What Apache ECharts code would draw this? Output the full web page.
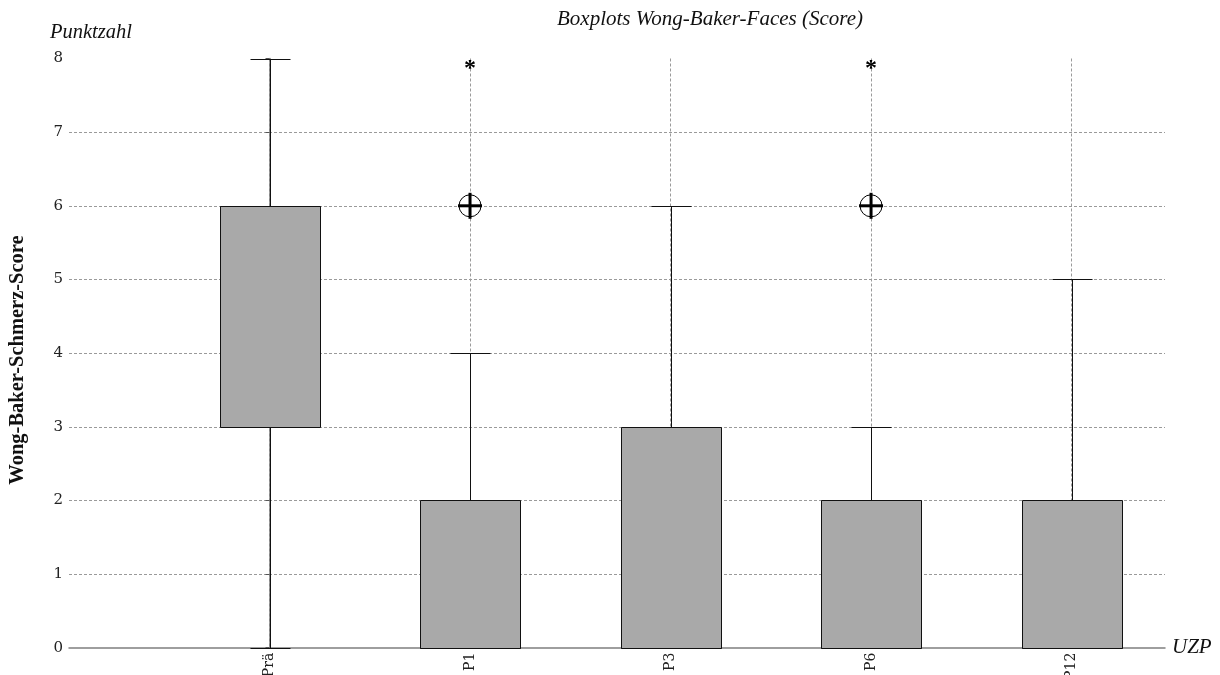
<!DOCTYPE html>
<html><head><meta charset="utf-8">
<script src="https://cdn.jsdelivr.net/npm/echarts@6/dist/echarts.min.js"></script>
<style>html,body{margin:0;padding:0;background:#fff}#c{width:1220px;height:675px}</style>
</head><body><div id="c"></div>
<script>
const categories = ['Prä', 'P1', 'P3', 'P6', 'P12'];
const whiskerLow = [0, 0, 0, 0, 0];
const q1 = [3, 0, 0, 0, 0];
const median = [6, 0, 0, 0, 0];
const q3 = [6, 2, 3, 2, 2];
const whiskerHigh = [8, 4, 6, 3, 5];
const outlierCats = ['P1', 'P6'];
const outlierVals = [6, 6];
const extremeCats = ['P1', 'P6'];
const extremeVals = [8, 8];
const yMin = 0, yMax = 8, yStep = 1;

const boxData = categories.map((c, i) => [i, whiskerLow[i], q1[i], median[i], q3[i], whiskerHigh[i]]);
const outlierData = outlierCats.map((c, k) => [categories.indexOf(c), outlierVals[k]]);
const extremeData = extremeCats.map((c, k) => [categories.indexOf(c), extremeVals[k]]);

const serif = '"Liberation Serif", "Times New Roman", serif';
const lblFont = '"DejaVu Serif", serif';
const r5 = v => Math.round(v) + 0.5;

function renderBox(params, api) {
  const i = api.value(0);
  const x = r5(api.coord([i, 0])[0]);
  const yLo = r5(api.coord([i, api.value(1)])[1]);
  const yQ1 = r5(api.coord([i, api.value(2)])[1]);
  const yMed = r5(api.coord([i, api.value(3)])[1]);
  const yQ3 = r5(api.coord([i, api.value(4)])[1]);
  const yHi = r5(api.coord([i, api.value(5)])[1]);
  const bw = Math.round(api.size([0.5, 0])[0]);
  const cw = Math.round(api.size([0.2, 0])[0]);
  const ls = { stroke: '#111', lineWidth: 1 };
  return {
    type: 'group', children: [
      { type: 'line', shape: { x1: x, y1: yLo, x2: x, y2: yHi }, style: ls },
      { type: 'line', shape: { x1: x - cw / 2, y1: yLo, x2: x + cw / 2, y2: yLo }, style: ls },
      { type: 'line', shape: { x1: x - cw / 2, y1: yHi, x2: x + cw / 2, y2: yHi }, style: ls },
      { type: 'rect', shape: { x: x - bw / 2, y: yQ3, width: bw, height: yQ1 - yQ3 }, style: { fill: '#a9a9a9', stroke: '#111', lineWidth: 1 } },
      { type: 'line', shape: { x1: x - bw / 2, y1: yMed, x2: x + bw / 2, y2: yMed }, style: ls }
    ]
  };
}
function renderOutlier(params, api) {
  const p = api.coord([api.value(0), api.value(1)]);
  const x = p[0], y = p[1];
  return {
    type: 'group', children: [
      { type: 'circle', shape: { cx: x, cy: y, r: 11 }, style: { fill: 'rgba(255,255,255,0.6)', stroke: '#000', lineWidth: 1 } },
      { type: 'line', shape: { x1: x - 12, y1: y, x2: x + 12, y2: y }, style: { stroke: '#000', lineWidth: 3 } },
      { type: 'line', shape: { x1: x, y1: y - 13, x2: x, y2: y + 13 }, style: { stroke: '#000', lineWidth: 3 } }
    ]
  };
}
function renderExtreme(params, api) {
  const p = api.coord([api.value(0), api.value(1)]);
  return {
    type: 'text', style: { x: p[0], y: p[1] - 2, text: '*', font: 'bold 24px ' + serif, fill: '#000', textAlign: 'center', textVerticalAlign: 'top' }
  };
}

const chart = echarts.init(document.getElementById('c'), null, { renderer: 'canvas' });
chart.setOption({
  animation: false,
  backgroundColor: '#fff',
  grid: { left: 69, right: 55, top: 58.5, bottom: 27.3, containLabel: false, outerBoundsMode: 'none' },
  xAxis: {
    type: 'value', min: -1, max: 4.466, interval: 1,
    name: 'UZP', nameLocation: 'end', nameGap: 7,
    nameTextStyle: { fontFamily: serif, fontStyle: 'italic', fontSize: 21, color: '#111' },
    axisLine: { show: true, lineStyle: { color: '#7f7f7f', width: 1.5 } },
    axisTick: { show: false },
    axisLabel: {
      rotate: 90, margin: 5, fontFamily: lblFont, fontSize: 14, color: '#222',
      formatter: v => (Number.isInteger(v) && categories[v] !== undefined) ? categories[v] : '',
      showMinLabel: false, showMaxLabel: false
    },
    splitLine: { show: true, showMinLine: false, showMaxLine: false, lineStyle: { color: '#9a9a9a', type: [3, 2], width: 1 } }
  },
  yAxis: {
    type: 'value', min: yMin, max: yMax, interval: yStep,
    axisLine: { show: true, lineStyle: { color: '#7f7f7f', width: 1.5 } },
    axisTick: { show: true, length: 4, lineStyle: { color: '#555' } },
    axisLabel: { margin: 6, fontFamily: lblFont, fontSize: 15, color: '#222' },
    splitLine: { show: true, showMinLine: false, showMaxLine: false, lineStyle: { color: '#9a9a9a', type: [3, 2], width: 1 } }
  },
  graphic: [
    { type: 'text', style: { x: 710, y: 19, text: 'Boxplots Wong-Baker-Faces (Score)', font: 'italic 21px ' + serif, fill: '#111', textAlign: 'center', textVerticalAlign: 'middle' } },
    { type: 'text', style: { x: 50, y: 33, text: 'Punktzahl', font: 'italic 20.5px ' + serif, fill: '#111', textAlign: 'left', textVerticalAlign: 'middle' } },
    { type: 'text', x: 18, y: 360, rotation: Math.PI / 2, style: { x: 0, y: 0, text: 'Wong-Baker-Schmerz-Score', font: 'bold 20.5px ' + serif, fill: '#111', textAlign: 'center', textVerticalAlign: 'middle' } }
  ],
  series: [
    { type: 'custom', name: 'box', renderItem: renderBox, data: boxData, clip: false, encode: { x: 0, y: [1, 2, 3, 4, 5] }, z: 3 },
    { type: 'custom', name: 'outlier', renderItem: renderOutlier, data: outlierData, clip: false, encode: { x: 0, y: 1 }, z: 4 },
    { type: 'custom', name: 'extreme', renderItem: renderExtreme, data: extremeData, clip: false, encode: { x: 0, y: 1 }, z: 4 }
  ]
});
</script></body></html>
